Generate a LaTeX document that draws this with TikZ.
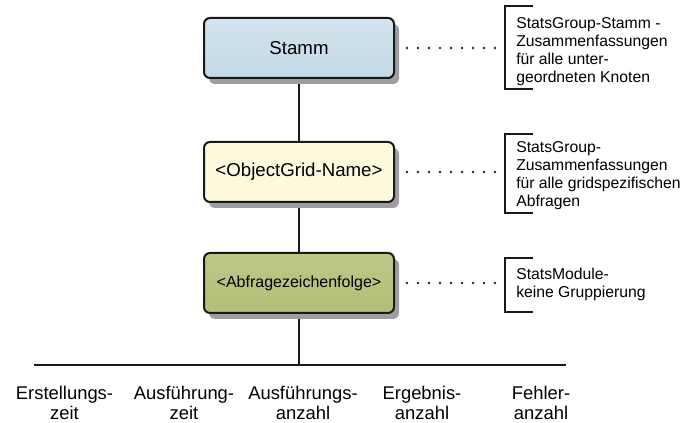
\documentclass[tikz,border=0pt]{standalone}
\usepackage{fontspec}
\setmainfont{Liberation Sans}
\usepackage{xcolor}
\usetikzlibrary{shadows, backgrounds}

\definecolor{stammblue}{HTML}{C3DAE6}
\definecolor{stammtop}{HTML}{D3E4ED}
\definecolor{gridyellow}{HTML}{FCF9DC}
\definecolor{queryolive}{HTML}{B2BF77}
\definecolor{querytop}{HTML}{BCC888}

\begin{document}
\begin{tikzpicture}[x=0.75pt, y=-0.75pt,
    levelbox/.style={draw=black!90, line width=1.5pt, rounded corners=4.5pt,
        minimum width=142.5pt, minimum height=45pt, inner sep=0pt,
        drop shadow={shadow xshift=3.75pt, shadow yshift=-4.5pt, fill=black!38, opacity=1}},
    trunk/.style={line width=1.5pt, black!90},
    dots/.style={line width=2.2pt, line cap=round, dash pattern=on 0pt off 8.25pt, black!85},
    bracket/.style={line width=1.5pt, black!90},
    note/.style={anchor=west, align=left, inner sep=0pt, font=\fontsize{11.8}{13.5}\selectfont},
    leaf/.style={anchor=north, align=center, inner sep=0pt, font=\fontsize{13.8}{15}\selectfont}]
    \useasboundingbox (0,0) rectangle (683,423);

        % Define bracket ends
        \coordinate (B1t) at (505, 6);      % Top of bracket for stamm
        \coordinate (B1b) at (505, 89);     % Bottom of bracket for stamm
        \coordinate (B2t) at (505, 134);    % Top of bracket for grid
        \coordinate (B2b) at (505, 213);    % Bottom of bracket for grid
        \coordinate (B3t) at (505, 258);    % Top of bracket for query
        \coordinate (B3b) at (505, 312);    % Bottom of bracket for query

        % Define ends of the horizontal line
        \coordinate (HL) at (34, 365);      % Left end
        \coordinate (HR) at (566, 365);     % Right end

        % Draw the three level boxes
        \node[levelbox, top color=stammtop, bottom color=stammblue,
              font=\fontsize{14}{16}\selectfont] (stamm) at (299, 48) {Stamm};
        \node[levelbox, fill=gridyellow,
              font=\fontsize{14}{16}\selectfont] (grid) at (299, 172) {<ObjectGrid-Name>};
        \node[levelbox, top color=querytop, bottom color=queryolive,
              font=\fontsize{12}{14}\selectfont] (query) at (299, 283) {<Abfragezeichenfolge>};

        % Draw the trunk behind the boxes
        \begin{scope}[on background layer]
        \draw[trunk] (stamm.south) -- (grid.north);
        \draw[trunk] (grid.south) -- (query.north);
        \draw[trunk] (query.south) -- (query.south |- HL);
        \end{scope}
        \draw[trunk] (HL) -- (HR);

        % Draw the notes with their brackets
        \node[note] (n1) at (516, 52) {StatsGroup-Stamm -\\Zusammenfassungen\\für alle unter-\\geordneten Knoten};
        \node[note] (n2) at (516, 176) {StatsGroup-\\Zusammenfassungen\\für alle gridspezifischen\\Abfragen};
        \node[note] (n3) at (516, 284) {StatsModule-\\keine Gruppierung};

        \draw[bracket] (B1t) ++(28, 0) -- (B1t) -- (B1b) -- ++(28, 0);
        \draw[bracket] (B2t) ++(28, 0) -- (B2t) -- (B2b) -- ++(28, 0);
        \draw[bracket] (B3t) ++(28, 0) -- (B3t) -- (B3b) -- ++(28, 0);

        % Draw dotted lines from the boxes to the brackets
        \draw[dots] ([xshift=9pt]stamm.east) -- ([xshift=-6.75pt]stamm.east -| B1t);
        \draw[dots] ([xshift=9pt]grid.east) -- ([xshift=-6.75pt]grid.east -| B2t);
        \draw[dots] ([xshift=9pt]query.east) -- ([xshift=-6.75pt]query.east -| B3t);

        % Draw the labels below the line
        \node[leaf] (l1) at (64.5, 385.5) {Erstellungs-\\zeit};
        \node[leaf] (l2) at (184, 385.5) {Ausführung-\\zeit};
        \node[leaf] (l3) at (303, 385.5) {Ausführungs-\\anzahl};
        \node[leaf] (l4) at (422, 385.5) {Ergebnis-\\anzahl};
        \node[leaf] (l5) at (541, 385.5) {Fehler-\\anzahl};
    \end{tikzpicture}
\end{document}
